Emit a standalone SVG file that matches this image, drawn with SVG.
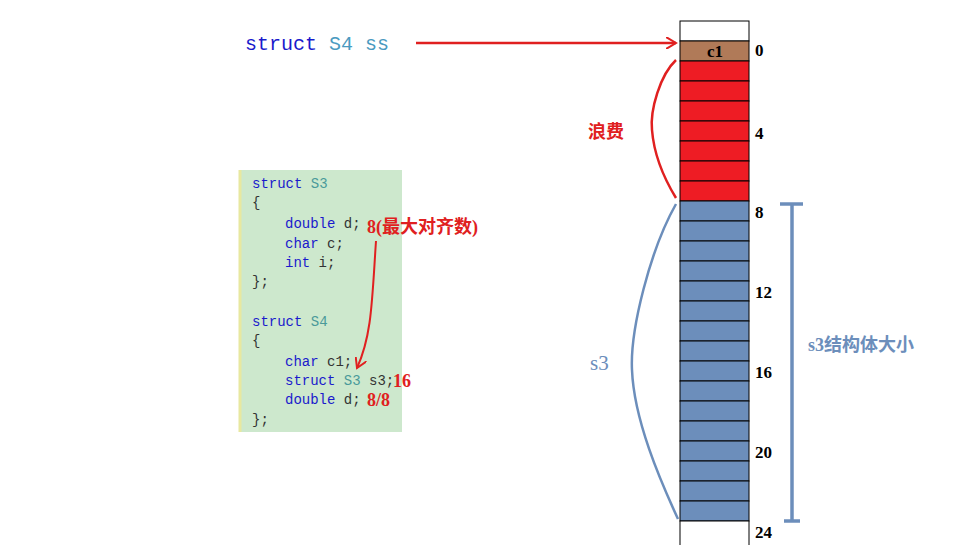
<svg xmlns="http://www.w3.org/2000/svg" width="958" height="545" viewBox="0 0 958 545">
<style>
.code{font-family:"Courier New","Liberation Mono",monospace;font-size:14px;fill:#1a1acc}
.blk{fill:#333}
.ty{fill:#4a9a9a}
.red{font-family:"Times New Roman","Liberation Serif","Noto Sans CJK SC",serif;font-weight:bold;fill:#e02020;font-size:18px}
.num{font-family:"Liberation Serif",serif;font-weight:bold;font-size:17px;fill:#000}
.cell{stroke:#000;stroke-width:1}
</style>
<defs>
<marker id="ah" markerWidth="12" markerHeight="12" refX="10" refY="6" orient="auto" markerUnits="userSpaceOnUse">
<path d="M0,0 L10,6 L0,12" fill="none" stroke="#e02020" stroke-width="2"/>
</marker>
</defs>
<rect width="958" height="545" fill="#fff"/>
<g id="title">
<text x="245" y="50" font-family="Liberation Mono,monospace" font-size="20" fill="#1a1acc">struct <tspan fill="#4a9ac0">S4 ss</tspan></text>
</g>
<g id="code">
<rect x="240" y="170" width="162" height="262" fill="#cde8cd"/>
<line x1="240" y1="170" x2="240" y2="432" stroke="#e8e8a0" stroke-width="3"/>
<text class="code" x="252" y="188"><tspan>struct </tspan><tspan class="ty">S3</tspan></text>
<text class="code blk" x="252" y="207">{</text>
<text class="code" x="285" y="228">double <tspan class="blk">d;</tspan></text>
<text class="code" x="285" y="248">char <tspan class="blk">c;</tspan></text>
<text class="code" x="285" y="267">int <tspan class="blk">i;</tspan></text>
<text class="code blk" x="252" y="286">};</text>
<text class="code" x="252" y="326"><tspan>struct </tspan><tspan class="ty">S4</tspan></text>
<text class="code blk" x="252" y="345">{</text>
<text class="code" x="285" y="366">char <tspan class="blk">c1;</tspan></text>
<text class="code" x="285" y="385">struct <tspan class="ty">S3</tspan> <tspan class="blk">s3;</tspan></text>
<text class="code" x="285" y="404">double <tspan class="blk">d;</tspan></text>
<text class="code blk" x="252" y="424">};</text>
<text class="red" x="367" y="233">8(最大对齐数)</text>
<text class="red" x="393" y="387">16</text>
<text class="red" x="367" y="406">8/8</text>
</g>
<g id="memory">
<rect class="cell" x="680" y="21" width="69" height="20" fill="#fff"/>
<rect class="cell" x="680" y="41" width="69" height="20" fill="#b07a58"/>
<text x="715" y="57" text-anchor="middle" class="num" font-size="18">c1</text>
<g fill="#ee1c24">
<rect class="cell" x="680" y="61" width="69" height="20"/><rect class="cell" x="680" y="81" width="69" height="20"/><rect class="cell" x="680" y="101" width="69" height="20"/><rect class="cell" x="680" y="121" width="69" height="20"/><rect class="cell" x="680" y="141" width="69" height="20"/><rect class="cell" x="680" y="161" width="69" height="20"/><rect class="cell" x="680" y="181" width="69" height="20"/>
</g>
<g fill="#6c8ebb">
<rect class="cell" x="680" y="201" width="69" height="20"/><rect class="cell" x="680" y="221" width="69" height="20"/><rect class="cell" x="680" y="241" width="69" height="20"/><rect class="cell" x="680" y="261" width="69" height="20"/><rect class="cell" x="680" y="281" width="69" height="20"/><rect class="cell" x="680" y="301" width="69" height="20"/><rect class="cell" x="680" y="321" width="69" height="20"/><rect class="cell" x="680" y="341" width="69" height="20"/><rect class="cell" x="680" y="361" width="69" height="20"/><rect class="cell" x="680" y="381" width="69" height="20"/><rect class="cell" x="680" y="401" width="69" height="20"/><rect class="cell" x="680" y="421" width="69" height="20"/><rect class="cell" x="680" y="441" width="69" height="20"/><rect class="cell" x="680" y="461" width="69" height="20"/><rect class="cell" x="680" y="481" width="69" height="20"/><rect class="cell" x="680" y="501" width="69" height="20"/>
</g>
<rect class="cell" x="680" y="521" width="69" height="30" fill="#fff"/>
<text class="num" x="755" y="56">0</text>
<text class="num" x="755" y="139">4</text>
<text class="num" x="755" y="218">8</text>
<text class="num" x="755" y="298">12</text>
<text class="num" x="755" y="378">16</text>
<text class="num" x="755" y="458">20</text>
<text class="num" x="755" y="538">24</text>
</g>
<g id="labels">
<text class="red" x="588" y="138" font-size="22">浪费</text>
<text x="590" y="370" font-family="Liberation Serif,serif" font-size="21" fill="#6c8ebb">s3</text>
<text x="808" y="351" font-family="Liberation Serif,'Noto Sans CJK SC',serif" font-weight="bold" font-size="18" fill="#6c8ebb">s3结构体大小</text>
</g>
<g id="connectors" fill="none">
<path d="M416,43 L676,43" stroke="#e02020" stroke-width="2.5" marker-end="url(#ah)"/>
<path d="M376,241 C372,300 372,335 357,368" stroke="#e02020" stroke-width="2" marker-end="url(#ah)"/>
<path d="M676,60 C660,75 650,110 652,130 C654,155 665,180 676,198" stroke="#e02020" stroke-width="2.5"/>
<path d="M676,204 C650,250 630,330 632,370 C634,420 660,480 678,519" stroke="#6c8ebb" stroke-width="2.5"/>
<g stroke="#6c8ebb" stroke-width="3.5">
<line x1="792" y1="204" x2="792" y2="521"/>
<line x1="780" y1="204" x2="803" y2="204"/>
<line x1="784" y1="521" x2="800" y2="521"/>
</g>
</g>
</svg>
